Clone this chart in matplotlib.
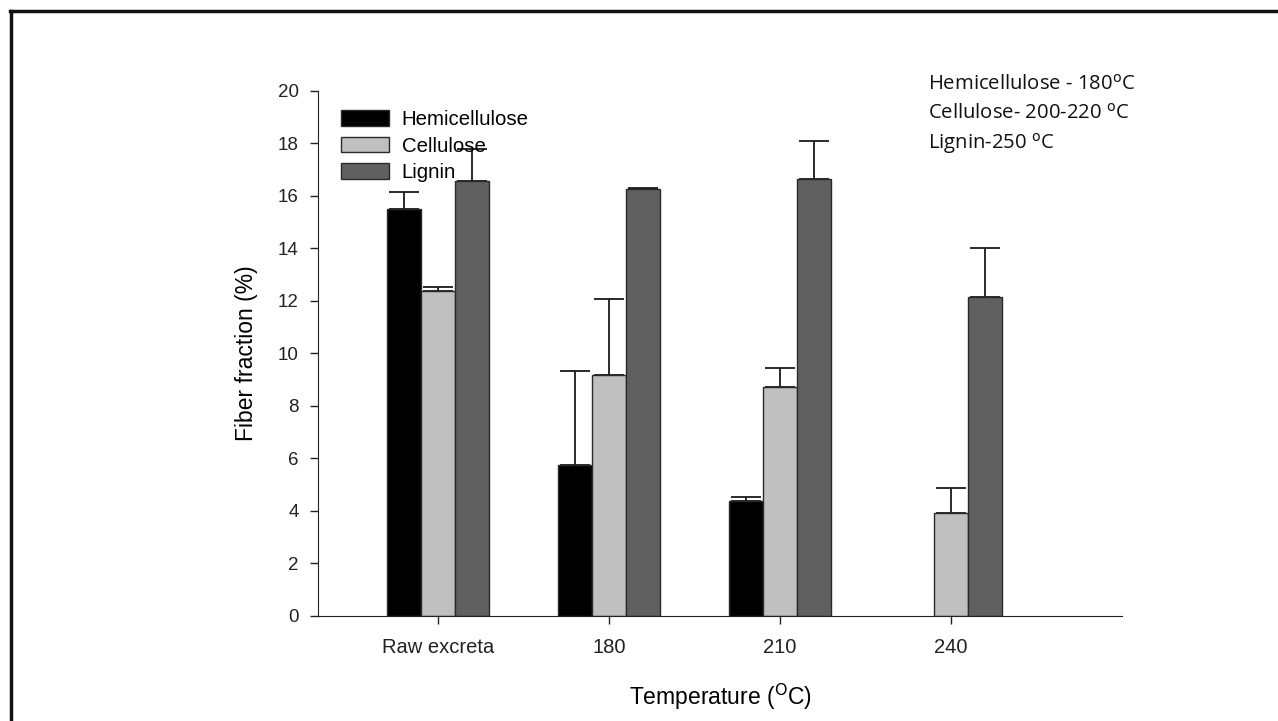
import matplotlib
matplotlib.use("Agg")
import matplotlib.pyplot as plt
import numpy as np
from matplotlib.lines import Line2D

# data
groups = ["Raw excreta", "180", "210", "240"]
hemicellulose = [15.5, 5.75, 4.38, 0.0]
hemi_err = [0.65, 3.58, 0.15, 0.0]
cellulose = [12.38, 9.18, 8.7, 3.9]
cell_err = [0.15, 2.9, 0.75, 0.95]
lignin = [16.57, 16.25, 16.65, 12.15]
lig_err = [1.2, 0.05, 1.45, 1.85]

series_names = ["Hemicellulose", "Cellulose", "Lignin"]
colors = ["#000000", "#c0c0c0", "#606060"]

plt.rcParams['font.family'] = ['Liberation Sans', 'DejaVu Sans']

fig = plt.figure(figsize=(12.78, 7.21), dpi=100)
ax = fig.add_axes([0.249, 0.146, 0.629, 0.728])

x = np.arange(len(groups))
w = 0.2
vals = [hemicellulose, cellulose, lignin]
errs = [hemi_err, cell_err, lig_err]
for i in range(3):
    xs = x + (i - 1) * w
    v = np.array(vals[i])
    e = np.array(errs[i])
    keep = v > 0
    ax.bar(xs[keep], v[keep], width=w, color=colors[i], edgecolor="#2a2a2a",
           linewidth=1.0, label=series_names[i], zorder=2)
    ax.errorbar(xs[keep], v[keep], yerr=[np.zeros(keep.sum()), e[keep]],
                fmt="none", ecolor="#1a1a1a", elinewidth=1.3, capsize=11,
                capthick=1.3, zorder=1)

ax.set_xlim(-0.7, 4.0)
ax.set_ylim(0, 20)
ax.set_yticks(np.arange(0, 21, 2))
ax.set_xticks(x)
ax.set_xticklabels(groups)
ax.tick_params(direction="out", length=6, width=1, colors="#222222")
ax.tick_params(axis="y", labelsize=13.5, pad=8)
ax.tick_params(axis="x", labelsize=14.5, pad=10)
for s in ["top", "right"]:
    ax.spines[s].set_visible(False)
for s in ["left", "bottom"]:
    ax.spines[s].set_color("#222222")
ax.set_ylabel("Fiber fraction (%)", fontsize=16.5, labelpad=14)
ax.xaxis.set_label_coords(0.478, -0.125)
ax.set_xlabel(r"Temperature ($^{\mathrm{O}}$C)", fontsize=16.5)

leg = ax.legend(loc="upper left", bbox_to_anchor=(0.006, 0.998), frameon=False,
                fontsize=14.7, handlelength=2.35, handleheight=0.8,
                labelspacing=0.36, handletextpad=0.6)

notes = ["Hemicellulose - 180$^{\\mathrm{o}}$C",
         "Cellulose- 200-220 $^{\\mathrm{o}}$C",
         "Lignin-250 $^{\\mathrm{o}}$C"]
for k, t in enumerate(notes):
    fig.text(928 / 1278, 1 - (85 + 29 * k) / 721, t, fontsize=14.6,
             family="Open Sans", va="center", ha="left", color="#111111")

# frame lines (top and left)
fig.add_artist(Line2D([10 / 1278, 1], [1 - 10.5 / 721, 1 - 10.5 / 721],
                      transform=fig.transFigure, color="#111111", lw=2.5))
fig.add_artist(Line2D([10.5 / 1278, 10.5 / 1278], [0, 1 - 10.5 / 721],
                      transform=fig.transFigure, color="#111111", lw=2.5))

fig.savefig("out.png", dpi=100)
